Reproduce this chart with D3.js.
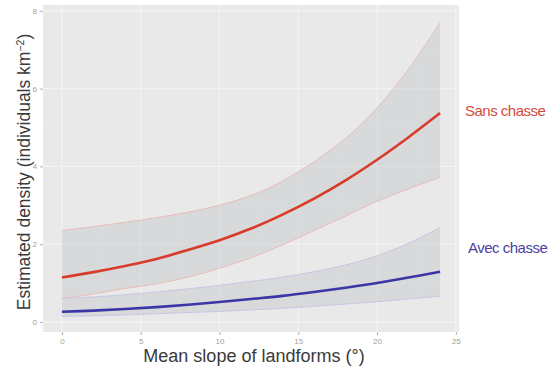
<!DOCTYPE html>
<html>
<head>
<meta charset="utf-8">
<script src="https://cdn.jsdelivr.net/npm/d3@7"></script>
<style>
  body { margin: 0; background: #fff; }
  text { font-family: "Liberation Sans", Arial, sans-serif; }
</style>
</head>
<body>
<script>
// slope values (degrees)
const slope = [0, 2, 4, 6, 8, 10, 12, 14, 16, 18, 20, 22, 24];

// without hunting
const sansMean  = [1.14, 1.28, 1.44, 1.62, 1.85, 2.1, 2.4, 2.76, 3.17, 3.64, 4.17, 4.75, 5.37];
const sansUpper = [2.35, 2.45, 2.56, 2.68, 2.82, 3.0, 3.25, 3.62, 4.12, 4.72, 5.5, 6.5, 7.7];
const sansLower = [0.6, 0.72, 0.86, 0.98, 1.15, 1.38, 1.65, 1.98, 2.35, 2.72, 3.1, 3.42, 3.72];

// with hunting
const avecMean  = [0.26, 0.29, 0.33, 0.38, 0.44, 0.51, 0.59, 0.67, 0.77, 0.88, 1.0, 1.14, 1.29];
const avecUpper = [0.6, 0.64, 0.7, 0.77, 0.85, 0.94, 1.04, 1.15, 1.29, 1.46, 1.7, 2.02, 2.43];
const avecLower = [0.14, 0.16, 0.18, 0.21, 0.24, 0.27, 0.31, 0.35, 0.4, 0.46, 0.52, 0.59, 0.66];

const xTicks = [0, 5, 10, 15, 20, 25];
const yTicks = [0, 2, 4, 6, 8];

const W = 556, H = 373;
const panel = {left: 43, right: 459, top: 5, bottom: 332};

const svg = d3.select("body").append("svg")
  .attr("width", W)
  .attr("height", H);

const x = d3.scaleLinear().domain([-1.2, 25.2]).range([panel.left, panel.right]);
const y = d3.scaleLinear().domain([-0.26, 8.15]).range([panel.bottom, panel.top]);

// panel background
svg.append("rect")
  .attr("x", panel.left).attr("y", panel.top)
  .attr("width", panel.right - panel.left)
  .attr("height", panel.bottom - panel.top)
  .attr("fill", "#e9e9e9");

// grid
const g = svg.append("g");
const minorX = d3.range(2.5, 25, 5);
const minorY = d3.range(1, 8, 2);
g.selectAll(".mx").data(minorX).enter().append("line")
  .attr("x1", d => x(d)).attr("x2", d => x(d))
  .attr("y1", panel.top).attr("y2", panel.bottom)
  .attr("stroke", "#eeeeee").attr("stroke-width", 0.6);
g.selectAll(".my").data(minorY).enter().append("line")
  .attr("y1", d => y(d)).attr("y2", d => y(d))
  .attr("x1", panel.left).attr("x2", panel.right)
  .attr("stroke", "#eeeeee").attr("stroke-width", 0.6);
g.selectAll(".gx").data(xTicks).enter().append("line")
  .attr("x1", d => x(d)).attr("x2", d => x(d))
  .attr("y1", panel.top).attr("y2", panel.bottom)
  .attr("stroke", "#f3f3f3").attr("stroke-width", 1.2);
g.selectAll(".gy").data(yTicks).enter().append("line")
  .attr("y1", d => y(d)).attr("y2", d => y(d))
  .attr("x1", panel.left).attr("x2", panel.right)
  .attr("stroke", "#f3f3f3").attr("stroke-width", 1.2);

// ribbons
const area = d3.area()
  .x((d, i) => x(slope[i]))
  .y0(d => y(d[0]))
  .y1(d => y(d[1]))
  .curve(d3.curveCatmullRom.alpha(0.5));

const line = d3.line()
  .x((d, i) => x(slope[i]))
  .y(d => y(d))
  .curve(d3.curveCatmullRom.alpha(0.5));

const groups = [
  {mean: sansMean, lo: sansLower, hi: sansUpper, col: "#d93b2b", edge: "#e9bcb6"},
  {mean: avecMean, lo: avecLower, hi: avecUpper, col: "#3b36a6", edge: "#c9c6e4"}
];

groups.forEach(gr => {
  const band = gr.lo.map((v, i) => [v, gr.hi[i]]);
  g.append("path")
    .attr("d", area(band))
    .attr("fill", "#c9ccce")
    .attr("fill-opacity", 0.55);
  g.append("path").attr("d", line(gr.hi))
    .attr("fill", "none").attr("stroke", gr.edge).attr("stroke-width", 1);
  g.append("path").attr("d", line(gr.lo))
    .attr("fill", "none").attr("stroke", gr.edge).attr("stroke-width", 1);
});

groups.forEach(gr => {
  g.append("path").attr("d", line(gr.mean))
    .attr("fill", "none").attr("stroke", gr.col).attr("stroke-width", 2.6);
});

// axes
const xAxis = svg.append("g")
  .attr("transform", `translate(0,${panel.bottom})`)
  .call(d3.axisBottom(x).tickValues(xTicks).tickSize(3).tickPadding(3));
const yAxis = svg.append("g")
  .attr("transform", `translate(${panel.left},0)`)
  .call(d3.axisLeft(y).tickValues(yTicks).tickSize(3).tickPadding(3));
[xAxis, yAxis].forEach(a => {
  a.select(".domain").remove();
  a.selectAll(".tick line").attr("stroke", "#b0b0b0");
  a.selectAll(".tick text").attr("fill", "#a0a0a0").attr("font-size", 8);
});

svg.append("text")
  .attr("x", 254)
  .attr("y", 362)
  .attr("text-anchor", "middle")
  .attr("font-size", 18)
  .attr("fill", "#3a3a3a")
  .text("Mean slope of landforms (°)");

const yt = svg.append("text")
  .attr("transform", `translate(30,172) rotate(-90)`)
  .attr("text-anchor", "middle")
  .attr("font-size", 17.5)
  .attr("fill", "#3a3a3a");
yt.append("tspan").text("Estimated density (individuals km");
yt.append("tspan").attr("dy", -6).attr("font-size", 10.5).text("−2");
yt.append("tspan").attr("dy", 6).text(")");

// group labels
svg.append("text")
  .attr("x", 465).attr("y", 116)
  .attr("font-size", 15)
  .attr("fill", "#d24a3c")
  .attr("font-family", "'Open Sans', sans-serif")
  .attr("letter-spacing", -0.5)
  .text("Sans chasse");
svg.append("text")
  .attr("x", 468).attr("y", 253)
  .attr("font-size", 15)
  .attr("fill", "#4b3fa0")
  .attr("font-family", "'Open Sans', sans-serif")
  .attr("letter-spacing", -0.5)
  .text("Avec chasse");
</script>
</body>
</html>
